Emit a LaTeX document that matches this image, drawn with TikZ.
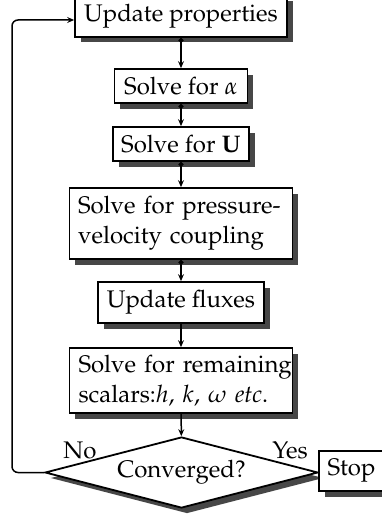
\documentclass[tikz,border=0pt]{standalone}
\usepackage[T1]{fontenc}
\usepackage{mathpazo}
\usetikzlibrary{shapes.geometric,shadows,arrows.meta}
\begin{document}
\begin{tikzpicture}[x=1pt,y=-1pt,
  font=\fontsize{24}{30}\selectfont,
  box/.style={draw,line width=1.8pt,fill=white,inner sep=0pt,align=center,
     drop shadow={shadow xshift=5.5pt,shadow yshift=-5.5pt,fill=black!72,opacity=1}},
  flow/.style={line width=1.5pt,-{Stealth[length=7pt,width=6pt,inset=2.5pt]}},
  dotflow/.style={line width=1.5pt,{Circle[length=5pt]}-{Stealth[length=7pt,width=6pt,inset=2.5pt]}}]
\useasboundingbox (0,0) rectangle (382,519);
\node[box,minimum width=212pt,minimum height=41pt] (up) at (181,16.5) {Update properties};
\node[box,minimum width=133pt,minimum height=34pt] (al) at (181,86) {Solve for $\alpha$};
\node[box,minimum width=136pt,minimum height=34pt] (uu) at (181,144) {Solve for $\mathbf{U}$};
\node[box,minimum width=223pt,minimum height=71pt,text width=206pt,align=left] (pv) at (181,223.5) {\makebox[206pt][s]{Solve for pressure-}\\velocity coupling};
\node[box,minimum width=166pt,minimum height=41pt] (fl) at (181,302.5) {Update fluxes};
\node[box,minimum width=223pt,minimum height=65pt,text width=205pt,align=left] (rs) at (181,380.5) {\makebox[205pt][s]{Solve for remaining}\\scalars:$h$, $k$, $\omega$ \emph{etc}.};
\node[box,diamond,aspect=3.85,minimum width=273pt,minimum height=71pt] (cv) at (181.5,472.5) {Converged?};
\node[box,minimum width=65pt,minimum height=40pt] (st) at (351.5,471) {Stop};
\node (no) at (80,450) {No};
\node (yes) at (290,450) {Yes};
\draw[dotflow] (up) -- (al);
\draw[dotflow] (al) -- (uu);
\draw[dotflow] (uu) -- (pv);
\draw[dotflow] (pv) -- (fl);
\draw[flow] (fl) -- (rs);
\draw[flow] (rs) -- (cv);
\coordinate (lc) at (12,20);
\draw[flow,rounded corners=6pt] (cv.west) -| (lc) -- (lc -| up.west);
\end{tikzpicture}
\end{document}
